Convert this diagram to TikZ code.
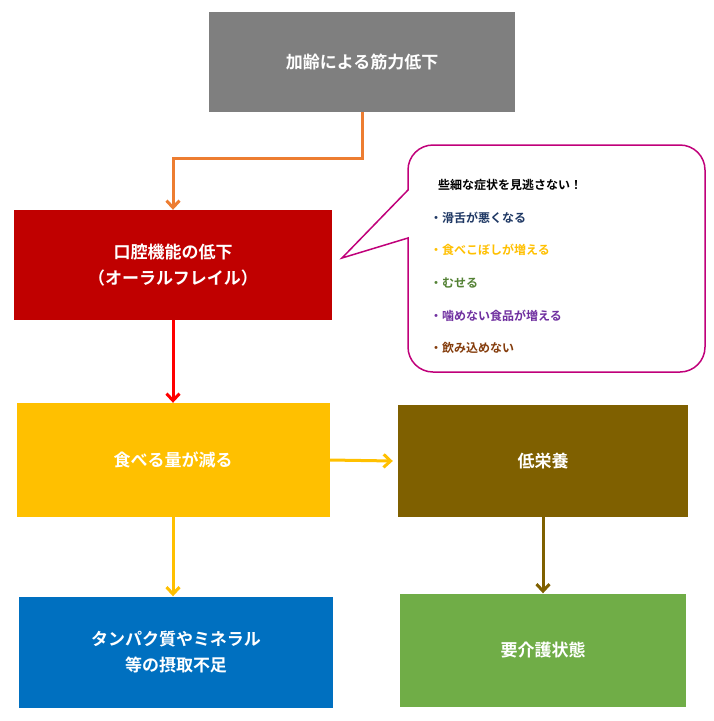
\documentclass[tikz,border=0pt]{standalone}
\usepackage{fontspec}
\setmainfont{Noto Sans CJK JP}[BoldFont={Noto Sans CJK JP Bold}]
\usetikzlibrary{arrows.meta}
\definecolor{grayBox}{HTML}{7F7F7F}
\definecolor{redBox}{HTML}{C00000}
\definecolor{yellowBox}{HTML}{FFC000}
\definecolor{brownBox}{HTML}{7F6000}
\definecolor{blueBox}{HTML}{0070C0}
\definecolor{greenBox}{HTML}{70AD47}
\definecolor{orangeArrow}{HTML}{ED7D31}
\definecolor{calloutLine}{HTML}{C0007A}
\definecolor{navyText}{HTML}{1F3864}
\definecolor{greenText}{HTML}{548235}
\definecolor{purpleText}{HTML}{7030A0}
\definecolor{brownText}{HTML}{843C0C}
\begin{document}
\begin{tikzpicture}[x=1pt,y=-1pt,
  box/.style={draw=none,text=white,font=\bfseries\fontsize{17}{26}\selectfont,align=center,inner sep=0pt},
  flow/.style={-{Straight Barb[length=7pt,width=13pt]},line width=3pt},
  note/.style={anchor=west,font=\bfseries\fontsize{12}{14}\selectfont,inner sep=0pt}]
\useasboundingbox (0,0) rectangle (713,721);
% boxes
\node[box,fill=grayBox,minimum width=306,minimum height=100] (age) at (362,62) {加齢による筋力低下};
\node[box,fill=redBox,minimum width=318,minimum height=110] (oral) at (173,265) {口腔機能の低下\\（オーラルフレイル）};
\node[box,fill=yellowBox,minimum width=313,minimum height=114] (eat) at (173,460) {食べる量が減る};
\node[box,fill=brownBox,minimum width=290,minimum height=112] (mal) at (543,461) {低栄養};
\node[box,fill=blueBox,minimum width=314,minimum height=111] (prot) at (176,652) {タンパク質やミネラル\\等の摂取不足};
\node[box,fill=greenBox,minimum width=286,minimum height=113] (care) at (543,650) {要介護状態};
% callout
\coordinate (tip) at (342,258);
\draw[calloutLine,line width=1.5pt,fill=white] (tip) -- (408,238) [rounded corners=25] -- (408,372) -- (705,372) -- (705,145) -- (408,145) [sharp corners] -- (408,190) -- cycle;
\node[note] (head) at (438,185) {些細な症状を見逃さない！};
\foreach \c/\t [count=\i] in {navyText/・滑舌が悪くなる,yellowBox/・食べこぼしが増える,greenText/・むせる,purpleText/・噛めない食品が増える,brownText/・飲み込めない}
  \node[note,text=\c] (item\i) at (430,{185+\i*32.6}) {\t};
% arrows
\coordinate (bend) at (362,158);
\draw[flow,orangeArrow] (age.south) -- (bend) -| (oral.north);
\draw[flow,red] (oral.south) -- (eat.north);
\draw[flow,yellowBox] (eat.south) -- (eat.south |- prot.north);
\draw[flow,yellowBox] (eat.east) -- ++(0,0) -- ([xshift=-5pt]mal.west);
\draw[flow,brownBox] (mal.south) -- (care.north);
\end{tikzpicture}
\end{document}
